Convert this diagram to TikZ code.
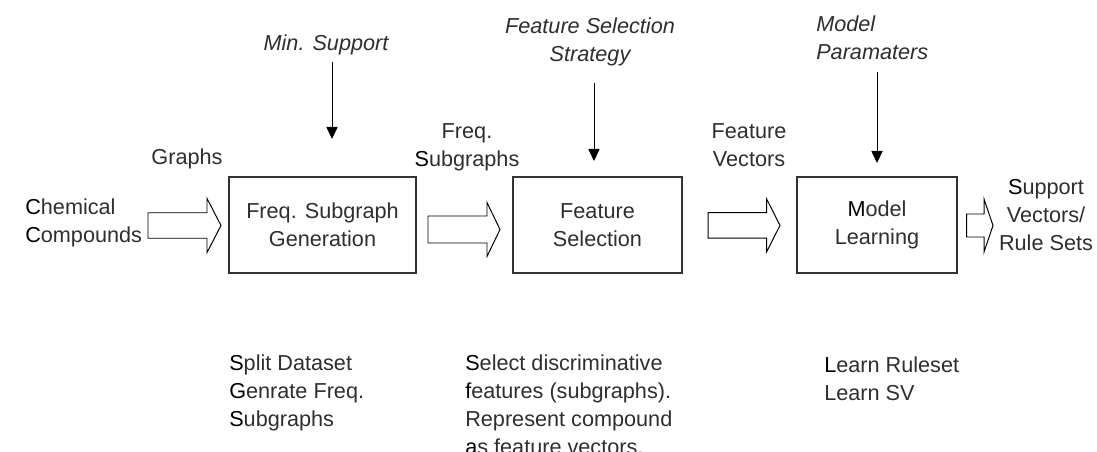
\documentclass[tikz,border=0pt]{standalone}
\usepackage{fontspec}
\setmainfont{Liberation Sans}
\usetikzlibrary{arrows.meta, calc}

\newcommand\basefont{\fontsize{15.4pt}{19.9pt}\selectfont}
\newcommand\dk[1]{\textcolor{black}{#1}}
\newcommand\hollowarrow[5]{%
  \draw[hollow] (#1) ++(0,-#4) -- ($(#2)+(-#3,-#4)$) -- ++(0,{#4-#5}) -- (#2)
    -- ++(-#3,#5) -- ++(0,{#4-#5}) -- ($(#1)+(0,#4)$) -- cycle;}

\tikzset{
  stage/.style={draw=black!80, line width=0.9pt, minimum height=2.4cm, align=center},
  lbl/.style={align=center, inner sep=0pt, anchor=north},
  param/.style={lbl, font=\basefont\itshape},
  note/.style={align=left, inner sep=0pt, anchor=north west},
  hollow/.style={draw=black, line width=0.7pt, line join=miter},
  feed/.style={-{Triangle[width=0.28cm,length=0.3cm]}, line width=0.7pt},
}

\begin{document}
\begin{tikzpicture}[x=0.025cm, y=-0.025cm, font=\basefont, text=black!82]
  \useasboundingbox (0,0) rectangle (1097,452);

  \node[stage, minimum width=4.675cm] (gen) at (322.5,225) {Freq. Subgraph\\Generation};
  \node[stage, minimum width=4.225cm] (sel) at (597.5,225) {Feature\\Selection};
  \node[stage, minimum width=4cm] (learn) at (877,225) {\dk{M}odel\\Learning};

  \node[note] (chem) at (25,199) {\dk{C}hemical\\\dk{C}ompounds};
  \node[lbl] (graphs) at (187,149) {Graphs};
  \node[lbl] (freqsg) at (467,123) {Freq.\\\dk{S}ubgraphs};
  \node[lbl] (featvec) at (749,123) {Feature\\Vectors};
  \node[lbl] (result) at (1046,179) {\dk{S}upport\\Vectors/\\Rule Sets};

  \node[param] (minsup) at (326,35) {Min. Support};
  \node[param] (strategy) at (590,18) {Feature Selection\\Strategy};
  \node[param, align=left, anchor=north west] (modpar) at (816,16) {Model\\Paramaters};

  \node[note] (gennote) at (229,355) {\dk{S}plit Dataset\\\dk{G}enrate Freq.\\\dk{S}ubgraphs};
  \node[note] (selnote) at (465,355) {\dk{S}elect discriminative\\\dk{f}eatures (subgraphs).\\Represent compound\\\dk{a}s feature vectors.};
  \node[note] (learnnote) at (824,357) {\dk{L}earn Ruleset\\Learn SV};

  \coordinate (a1s) at (148,225.5);   \coordinate (a1e) at (221,225.5);
  \coordinate (a2s) at (428,229.5);   \coordinate (a2e) at (500,229.5);
  \coordinate (a3s) at (708,225.4);   \coordinate (a3e) at (780,225.4);
  \coordinate (a4s) at (966.7,225.5); \coordinate (a4e) at (993,225.5);
  \hollowarrow{a1s}{a1e}{14}{12.75}{27}
  \hollowarrow{a2s}{a2e}{13}{13.5}{27}
  \hollowarrow{a3s}{a3e}{13.3}{12.7}{26.3}
  \hollowarrow{a4s}{a4e}{9}{11.5}{26.5}

  \coordinate (ms1) at (332,62);  \coordinate (ms2) at (332,139);
  \coordinate (fs1) at (594,83);  \coordinate (fs2) at (594,161);
  \coordinate (mp1) at (877,72);  \coordinate (mp2) at (877,163);
  \draw[feed] (ms1) -- (ms2);
  \draw[feed] (fs1) -- (fs2);
  \draw[feed] (mp1) -- (mp2);
\end{tikzpicture}
\end{document}
